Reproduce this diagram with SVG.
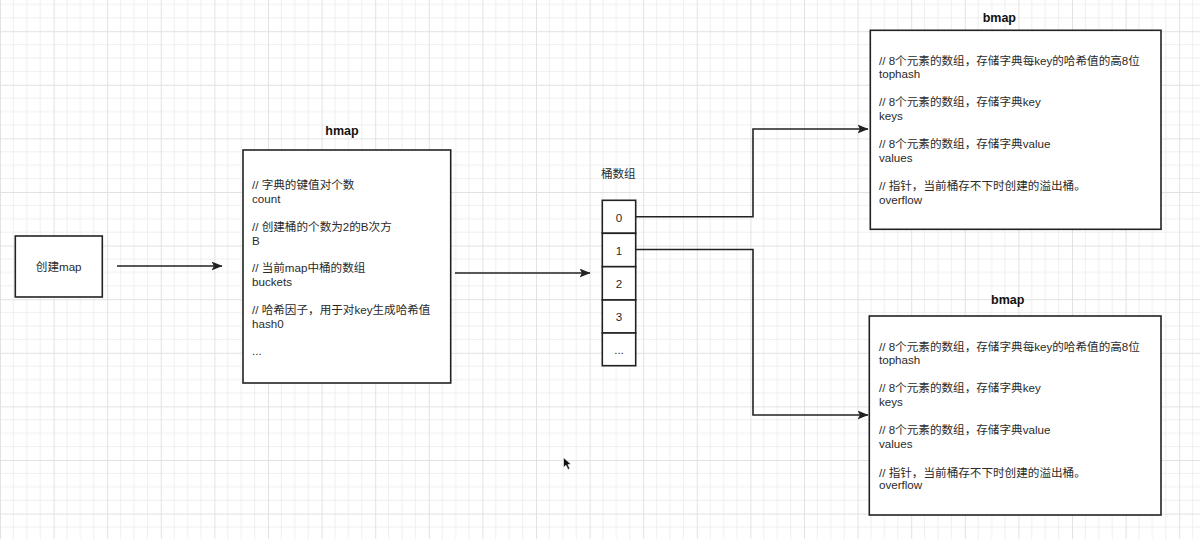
<svg xmlns="http://www.w3.org/2000/svg" width="1200" height="539" viewBox="0 0 1200 539">
<defs>
<pattern id="grid" patternUnits="userSpaceOnUse" x="0" y="31.2" width="53.6" height="53.6">
<path d="M13.4,0V53.6M26.8,0V53.6M40.2,0V53.6M0,13.4H53.6M0,26.8H53.6M0,40.2H53.6" stroke="#efefef" stroke-width="1" fill="none"/>
<path d="M0.5,0V53.6M0,0.5H53.6" stroke="#e2e2e2" stroke-width="1" fill="none"/>
</pattern>
<marker id="arr" markerUnits="userSpaceOnUse" markerWidth="11" markerHeight="9" refX="10.5" refY="4.5" orient="auto">
<path d="M0,0 L11,4.5 L0,9 L2.5,4.5 z" fill="#222"/>
</marker>
<style>
.box{fill:#fff;stroke:#222;stroke-width:1.6}
.t{font-family:"Liberation Sans","Noto Sans CJK SC",sans-serif;font-size:11.6px;fill:#2a2a2a}
.title{font-family:"Liberation Sans","Noto Sans CJK SC",sans-serif;font-size:12.5px;font-weight:bold;fill:#111}
.edge{fill:none;stroke:#222;stroke-width:1.6;marker-end:url(#arr)}
</style>
</defs>
<rect width="1200" height="539" fill="#fff"/>
<rect width="1200" height="539" fill="url(#grid)"/>

<g id="connectors">
<path class="edge" d="M117,266 H222"/>
<path class="edge" d="M455,273 H590"/>
<path class="edge" d="M636,216.7 H753 V129 H868"/>
<path class="edge" d="M636,249.5 H753 V415 H868"/>
</g>

<g id="create-map">
<rect class="box" x="15.3" y="236" width="87" height="61"/>
<text class="t" x="58.7" y="271" text-anchor="middle">创建map</text>
</g>

<g id="hmap">
<text class="title" x="342" y="134.5" text-anchor="middle">hmap</text>
<rect class="box" x="243" y="150" width="207.7" height="233"/>
<text class="t" x="252" y="188.5">// 字典的键值对个数</text>
<text class="t" x="252" y="202.5">count</text>
<text class="t" x="252" y="231">// 创建桶的个数为2的B次方</text>
<text class="t" x="252" y="244.5">B</text>
<text class="t" x="252" y="271.5">// 当前map中桶的数组</text>
<text class="t" x="252" y="285.5">buckets</text>
<text class="t" x="252" y="313.5">// 哈希因子，用于对key生成哈希值</text>
<text class="t" x="252" y="327.5">hash0</text>
<text class="t" x="252" y="355">...</text>
</g>

<g id="bucket-array">
<text class="t" x="618.3" y="178" text-anchor="middle">桶数组</text>
<rect class="box" x="602.3" y="200.3" width="33.4" height="33"/>
<rect class="box" x="602.3" y="233.3" width="33.4" height="33.4"/>
<rect class="box" x="602.3" y="266.7" width="33.4" height="33.3"/>
<rect class="box" x="602.3" y="300" width="33.4" height="33"/>
<rect class="box" x="602.3" y="333" width="33.4" height="32.7"/>
<text class="t" x="619" y="221.5" text-anchor="middle">0</text>
<text class="t" x="619" y="254.5" text-anchor="middle">1</text>
<text class="t" x="619" y="288" text-anchor="middle">2</text>
<text class="t" x="619" y="321" text-anchor="middle">3</text>
<text class="t" x="619" y="354" text-anchor="middle">...</text>
</g>

<g id="bmap-top">
<text class="title" x="999.3" y="21.5" text-anchor="middle">bmap</text>
<rect class="box" x="870.3" y="30.3" width="290.7" height="199"/>
<text class="t" x="879" y="65">// 8个元素的数组，存储字典每key的哈希值的高8位</text>
<text class="t" x="879" y="78.3">tophash</text>
<text class="t" x="879" y="106">// 8个元素的数组，存储字典key</text>
<text class="t" x="879" y="120">keys</text>
<text class="t" x="879" y="148.3">// 8个元素的数组，存储字典value</text>
<text class="t" x="879" y="161.6">values</text>
<text class="t" x="879" y="190">// 指针，当前桶存不下时创建的溢出桶。</text>
<text class="t" x="879" y="203.6">overflow</text>
</g>

<g id="bmap-bottom">
<text class="title" x="1007.7" y="304.3" text-anchor="middle">bmap</text>
<rect class="box" x="869.3" y="316" width="291.7" height="199"/>
<text class="t" x="879" y="351">// 8个元素的数组，存储字典每key的哈希值的高8位</text>
<text class="t" x="879" y="364.3">tophash</text>
<text class="t" x="879" y="392">// 8个元素的数组，存储字典key</text>
<text class="t" x="879" y="406.3">keys</text>
<text class="t" x="879" y="433.6">// 8个元素的数组，存储字典value</text>
<text class="t" x="879" y="447.6">values</text>
<text class="t" x="879" y="476.6">// 指针，当前桶存不下时创建的溢出桶。</text>
<text class="t" x="879" y="489.3">overflow</text>
</g>

<path d="M563.5,457.5 L563.5,467.5 L566,465.2 L568,469.5 L569.8,468.7 L567.9,464.5 L571,464.3 z" fill="#111" stroke="#fff" stroke-width="0.6"/>
</svg>
